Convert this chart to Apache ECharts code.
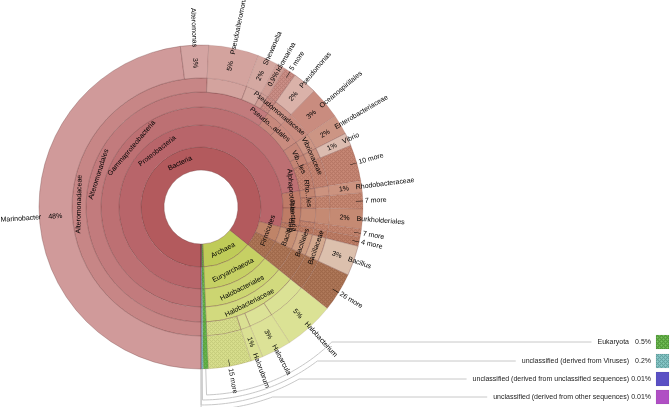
<!DOCTYPE html>
<html><head><meta charset="utf-8">
<script src="https://cdn.jsdelivr.net/npm/echarts@6/dist/echarts.min.js"></script>
<style>html,body{margin:0;padding:0;background:#fff}#c{width:671px;height:407px}</style>
</head><body><div id="c"></div>
<script>
// ---------------- data ----------------
const rootName = 'all';
const leafPaths = [
  'Bacteria/Proteobacteria/Gammaproteobacteria/Alteromonadales/Alteromonadaceae/Marinobacter',
  'Bacteria/Proteobacteria/Gammaproteobacteria/Alteromonadales/Alteromonadaceae/Alteromonas',
  'Bacteria/Proteobacteria/Gammaproteobacteria/Alteromonadales/Pseudoalteromonas',
  'Bacteria/Proteobacteria/Gammaproteobacteria/Alteromonadales/Shewanella',
  'Bacteria/Proteobacteria/Gammaproteobacteria/Alteromonadales/Idiomarina',
  'Bacteria/Proteobacteria/Gammaproteobacteria/Alteromonadales/5 more',
  'Bacteria/Proteobacteria/Gammaproteobacteria/Pseudomonadales/Pseudomonadaceae/Pseudomonas',
  'Bacteria/Proteobacteria/Gammaproteobacteria/Oceanospirillales',
  'Bacteria/Proteobacteria/Gammaproteobacteria/Enterobacteriales/Enterobacteriaceae',
  'Bacteria/Proteobacteria/Gammaproteobacteria/Vibrionales/Vibrionaceae/Vibrio',
  'Bacteria/Proteobacteria/Gammaproteobacteria/10 more',
  'Bacteria/Proteobacteria/Alphaproteobacteria/Rhodobacterales/Rhodobacteraceae',
  'Bacteria/Proteobacteria/Alphaproteobacteria/7 more',
  'Bacteria/Proteobacteria/Betaproteobacteria/Burkholderiales',
  'Bacteria/Proteobacteria/Betaproteobacteria/7 more',
  'Bacteria/Proteobacteria/4 more',
  'Bacteria/Firmicutes/Bacilli/Bacillales/Bacillaceae/Bacillus',
  'Bacteria/26 more',
  'Archaea/Euryarchaeota/Halobacteriales/Halobacteriaceae/Halobacterium',
  'Archaea/Euryarchaeota/Halobacteriales/Halobacteriaceae/Haloarcula',
  'Archaea/Euryarchaeota/Halobacteriales/Halobacteriaceae/Halorubrum',
  'Archaea/Euryarchaeota/Halobacteriales/Halobacteriaceae/15 more',
  'Eukaryota',
  'unclassified (derived from Viruses)',
  'unclassified (derived from unclassified sequences)',
  'unclassified (derived from other sequences)'
];
const leafValues = [
  48.0, 2.8, 5.0, 2.0, 0.9, 1.2,
  2.45, 3.2, 2.0, 1.3, 3.6,
  1.2, 1.6, 2.0, 0.8, 0.9,
  3.0, 3.9,
  5.0, 3.0, 1.2, 4.3,
  0.5, 0.2, 0.01, 0.01
];
const keyNames = ['Eukaryota', 'unclassified (derived from Viruses)', 'unclassified (derived from unclassified sequences)', 'unclassified (derived from other sequences)'];
const keyPercents = ['0.5%', '0.2%', '0.01%', '0.01%'];
// labels that Krona squeezes into narrow inner wedges
const squeezedLabels = {
  'Pseudomonadales': 'Pseudo...adales', 'Pseudomonadaceae': 'Pseudomonadaceae',
  'Vibrionales': 'Vib...les', 'Vibrionaceae': 'Vibrionaceae',
  'Alphaproteobacteria': 'Alphaproteobacteria', 'Rhodobacterales': 'Rho...les',
  'Betaproteobacteria': 'Beta...eria', 'Firmicutes': 'Firmicutes', 'Bacilli': 'Bacilli',
  'Bacillales': 'Bacillales', 'Bacillaceae': 'Bacillaceae'
};

// ---------------- styles / layout ----------------
const CX = 201, CY = 207;
const ringR = [37, 60, 82, 100, 115, 129, 162];
const MAXD = 6;
const FONT = '"Liberation Sans", Arial, sans-serif';
const FS = 7;
const nodeColors = {
  'Bacteria': '#b35a5d', 'Proteobacteria': '#b8656a', 'Gammaproteobacteria': '#bd7073',
  'Alteromonadales': '#c27b7d', 'Alteromonadaceae': '#c78686', 'Marinobacter': '#d09a9a',
  'Alteromonas': '#d4a4a2', 'Pseudoalteromonas': '#d3a39e',
  'Shewanella': '#d4a8a1', 'Idiomarina': '#cf9d95',
  'Alteromonadales/5 more': '#c88a82',
  'Pseudomonadales': '#c7887c', 'Pseudomonadaceae': '#cd9488', 'Pseudomonas': '#dab2a9',
  'Oceanospirillales': '#c98c7f', 'Enterobacteriales': '#c58779', 'Enterobacteriaceae': '#cc9584',
  'Vibrionales': '#c48574', 'Vibrionaceae': '#ca917f', 'Vibrio': '#dcbcb0',
  'Gammaproteobacteria/10 more': '#c3826f',
  'Alphaproteobacteria': '#bf7b68', 'Rhodobacterales': '#c48671', 'Rhodobacteraceae': '#cc937f',
  'Alphaproteobacteria/7 more': '#c3836d',
  'Betaproteobacteria': '#be7c66', 'Burkholderiales': '#c58a73', 'Betaproteobacteria/7 more': '#c2826b',
  'Proteobacteria/4 more': '#bb7a62',
  'Firmicutes': '#bf8468', 'Bacilli': '#c69074', 'Bacillales': '#cc9b80', 'Bacillaceae': '#d3a98f', 'Bacillus': '#dcc0ad',
  'Bacteria/26 more': '#aa7252',
  'Archaea': '#bfcb58', 'Euryarchaeota': '#c6d064', 'Halobacteriales': '#ccd571',
  'Halobacteriaceae': '#d2da7e', 'Halobacterium': '#dbe295', 'Haloarcula': '#dce297', 'Halorubrum': '#dae093',
  'Halobacteriaceae/15 more': '#d5dc88',
  'Eukaryota': '#62b146', 'unclassified (derived from Viruses)': '#7bbfbf',
  'unclassified (derived from unclassified sequences)': '#5a50c4',
  'unclassified (derived from other sequences)': '#b04fc4'
};
const hatchedKeys = ['Eukaryota', 'unclassified (derived from Viruses)'];
const BORDER = 'rgba(110,60,60,0.55)';
const PAD_BORDER = 'rgba(110,60,60,0.22)';

// ---------------- helpers ----------------
const mctx = document.createElement('canvas').getContext('2d');
mctx.font = FS + 'px ' + FONT;
const tw = s => mctx.measureText(s).width;
function fit(name, avail) {
  if (tw(name) <= avail) return name;
  for (let k = Math.floor(name.length / 2) - 1; k >= 3; k--) {
    const s = name.slice(0, k) + '...' + name.slice(-k);
    if (tw(s) <= avail) return s;
  }
  return '';
}
const patCache = {};
function hatchFill(base, strength) {
  const key = base + strength;
  if (patCache[key]) return patCache[key];
  const c = document.createElement('canvas'); c.width = 4; c.height = 4;
  const g = c.getContext('2d');
  g.fillStyle = base; g.fillRect(0, 0, 4, 4);
  g.fillStyle = 'rgba(0,0,0,' + strength + ')';
  for (let x = 0; x < 4; x++) for (let y = 0; y < 4; y++) {
    if ((x + y) % 4 === 0 || ((x - y) + 4) % 4 === 2) g.fillRect(x, y, 1, 1);
  }
  g.fillStyle = 'rgba(255,255,255,' + strength + ')';
  g.fillRect(1, 1, 1, 1); g.fillRect(3, 3, 1, 1);
  patCache[key] = { image: c, repeat: 'repeat' };
  return patCache[key];
}
const total = leafValues.reduce((a, b) => a + b, 0);
function pct(v) {
  const p = v / total * 100;
  return p >= 0.95 ? Math.round(p) + '%' : (p >= 0.1 ? p.toFixed(1) + '%' : p.toFixed(2) + '%');
}

// ---------------- build tree ----------------
const root = { name: rootName, kids: [], v: 0 };
leafPaths.forEach((p, i) => {
  const parts = p.split('/');
  const v = leafValues[i];
  let node = root; root.v += v;
  parts.forEach((nm) => {
    let ch = node.kids.find(c => c.name === nm);
    if (!ch) { ch = { name: nm, kids: [], v: 0, parentName: node.name }; node.kids.push(ch); }
    ch.v += v; node = ch;
  });
  const leaf = node;
  leaf.isKey = keyNames.indexOf(leaf.name) >= 0;
  let last = leaf;
  for (let d = parts.length + 1; d <= MAXD; d++) {
    const pad = { name: '', kids: [], v: v, pad: true, of: leaf };
    last.kids.push(pad); last = pad;
  }
  last.labelOf = leaf;
  leaf.padded = last !== leaf;
});

function baseColor(n) {
  if (n.pad) return baseColor(n.of);
  return nodeColors[n.parentName + '/' + n.name] || nodeColors[n.name] || '#cccccc';
}
const txt = { fontSize: FS, fontFamily: FONT, color: '#000' };

function conv(n, depth, start) {
  const span = n.v / total;
  const src = n.pad ? n.of : n;
  const isMore = / more$/.test(src.name);
  const base = depth === 0 ? '#ffffff' : baseColor(n);
  const col = (isMore || (src.isKey && hatchedKeys.indexOf(src.name) >= 0)) ? hatchFill(base, 0.07) : base;
  const o = { name: n.name };
  const style = { color: col };
  if (depth === 0) style.borderWidth = 0;
  else if (n.pad) style.borderColor = PAD_BORDER;
  o.itemStyle = style;
  if (n.kids.length) {
    let s = start;
    o.children = n.kids.map(k => { const c = conv(k, depth + 1, s); s += k.v / total; return c; });
  } else {
    o.value = n.v;
  }
  const theta = (start + span / 2) * 360; // clockwise from 6 o'clock
  const leftSide = theta < 180;
  o.label = { show: false };
  if (depth === 0) return o;
  if (n.labelOf && !n.labelOf.isKey) {
    const L = n.labelOf;
    if (/ more$/.test(L.name)) {
      o.label = Object.assign({ show: true, position: 'outside', rotate: 'radial', distance: -7,
        formatter: leftSide ? L.name + ' \u2014' : '\u2014 ' + L.name }, txt);
    } else {
      const p = pct(L.v);
      o.label = leftSide
        ? { show: true, rotate: 'radial', align: 'left', distance: 10, position: 'inside',
            formatter: '{n|' + L.name + '}{q|' + p + '}',
            rich: { n: txt, q: Object.assign({ width: 21, align: 'right' }, txt) } }
        : { show: true, rotate: 'radial', align: 'left', distance: 10, position: 'inside',
            formatter: '{q|' + p + '}{n|' + L.name + '}',
            rich: { n: txt, q: Object.assign({ width: 17, align: 'left' }, txt) } };
    }
  } else if (!n.pad && !n.padded && n.kids.length) {
    const rmid = (ringR[depth - 1] + ringR[depth]) / 2;
    const avail = span * 2 * Math.PI * rmid - 2;
    const t = squeezedLabels[n.name] || fit(n.name, avail);
    if (t) o.label = Object.assign({ show: true, rotate: 'tangential', formatter: t }, txt);
  }
  return o;
}
const data = [conv(root, 0, 0)];

const levels = [{}, { r0: 0, r: ringR[0] }];
for (let d = 1; d <= MAXD; d++) levels.push({ r0: ringR[d - 1], r: ringR[d] });

// ---------------- key (legend) with connector lines ----------------
const keyRowsY = [342, 361, 379, 397];
const keyRadii = [188, 193, 198, 203];
const graphics = [];
graphics.push({ type: 'text', x: CX, y: CY, style: { text: rootName, font: 'bold 8px ' + FONT, fill: '#000', align: 'center', verticalAlign: 'middle' } });
let acc = 0; const keyTheta = {};
leafPaths.forEach((p, i) => { const nm = p.split('/').pop(); if (keyNames.indexOf(nm) >= 0) keyTheta[nm] = (acc + leafValues[i] / 2) / total * 360; acc += leafValues[i]; });
keyNames.forEach((nm, i) => {
  const y = keyRowsY[i], R = keyRadii[i];
  const a0 = 90 + keyTheta[nm];
  const aEnd = Math.asin((y - CY) / R) * 180 / Math.PI;
  const rad = a => a * Math.PI / 180;
  const pts = [[CX + ringR[MAXD] * Math.cos(rad(a0)), CY + ringR[MAXD] * Math.sin(rad(a0))]];
  for (let a = a0 % 360; a >= aEnd; a -= 1) pts.push([CX + R * Math.cos(rad(a)), CY + R * Math.sin(rad(a))]);
  pts.push([CX + R * Math.cos(rad(aEnd)), y]);
  const nameRight = 629;
  pts.push([nameRight - tw(nm) - 6, y]);
  graphics.push({ type: 'polyline', shape: { points: pts }, style: { stroke: '#c8c8c8', lineWidth: 1, fill: null }, silent: true });
  graphics.push({ type: 'text', x: nameRight, y: y, style: { text: nm, font: FS + 'px ' + FONT, fill: '#222', align: 'right', verticalAlign: 'middle' } });
  graphics.push({ type: 'text', x: 651, y: y, style: { text: keyPercents[i], font: FS + 'px ' + FONT, fill: '#222', align: 'right', verticalAlign: 'middle' } });
  const base = nodeColors[nm];
  graphics.push({ type: 'rect', shape: { x: 656, y: y - 7, width: 13, height: 14 }, style: { fill: hatchedKeys.indexOf(nm) >= 0 ? hatchFill(base, 0.15) : base, stroke: 'rgba(0,0,0,0.1)', lineWidth: 0.5 } });
});

const chart = echarts.init(document.getElementById('c'), null, { renderer: 'canvas' });
chart.setOption({
  animation: false,
  backgroundColor: '#ffffff',
  series: [{
    type: 'sunburst',
    center: [CX, CY],
    startAngle: -90,
    clockwise: true,
    sort: null,
    nodeClick: false,
    data: data,
    levels: levels,
    emphasis: { disabled: true },
    itemStyle: { borderColor: BORDER, borderWidth: 0.6 },
    label: { fontSize: FS, fontFamily: FONT, color: '#000', minAngle: 0 }
  }],
  graphic: graphics
});
</script></body></html>
